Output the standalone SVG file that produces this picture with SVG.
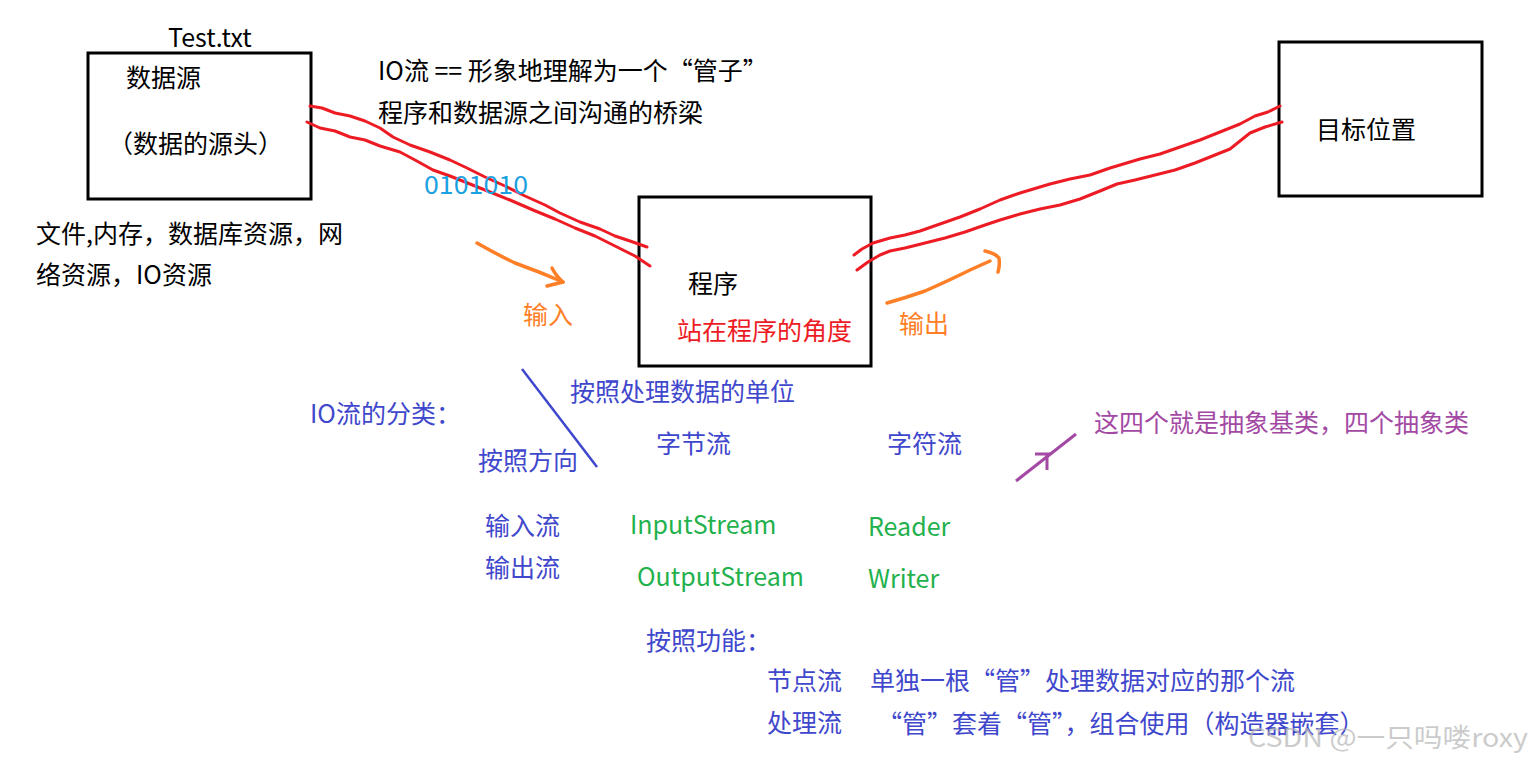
<svg xmlns="http://www.w3.org/2000/svg" width="1532" height="762" viewBox="0 0 1532 762">
<style>
text{font-family:"Microsoft YaHei","Noto Sans CJK SC","Noto Sans",sans-serif;font-size:25px}
.k{fill:#000}.b{fill:#3f48cc}.g{fill:#22b14c}.o{fill:#ff7f27}.r{fill:#ed1c24}.p{fill:#a349a4}.c{fill:#1ba1e2}
.box{fill:none;stroke:#000;stroke-width:3}
.red{fill:none;stroke:#ed1c24;stroke-width:3;stroke-linecap:round;stroke-linejoin:round}
.org{fill:none;stroke:#ff7f27;stroke-width:3.5;stroke-linecap:round;stroke-linejoin:round}
</style>
<rect width="1532" height="762" fill="#fff"/>
<g id="source">
<rect class="box" x="88" y="53" width="223" height="146"/>
<text class="k" x="168" y="47">Test.txt</text>
<text class="k" x="126" y="87">数据源</text>
<text class="k" x="108" y="153">（数据的源头）</text>
</g>
<text class="k" x="36" y="243">文件,内存，数据库资源，网</text>
<text class="k" x="36" y="284">络资源，IO资源</text>
<text class="k" x="378" y="80">IO流 == 形象地理解为一个“管子”</text>
<text class="k" x="378" y="122">程序和数据源之间沟通的桥梁</text>
<g id="program">
<rect class="box" x="639" y="197" width="232" height="169"/>
<text class="k" x="688" y="293">程序</text>
<text class="r" x="677" y="340">站在程序的角度</text>
</g>
<g id="target">
<rect class="box" x="1279" y="42" width="203" height="154"/>
<text class="k" x="1316" y="139">目标位置</text>
</g>
<g id="connectors">
<path class="red" d="M310 106 L322 108 L335 113 L350 116 L365 121 L380 128 L393 137 L410 145 L430 152 L450 160 L467 168 L485 177 L505 186 L525 196 L545 205 L560 213 L580 222 L600 229 L615 236 L630 241 L647 247"/>
<path class="red" d="M307 122 L320 128 L335 131 L350 137 L365 140 L380 146 L400 152 L415 160 L433 170 L450 176 L470 184 L490 192 L510 200 L533 210 L555 219 L575 228 L595 236 L615 246 L635 256 L650 266"/>
<path class="red" d="M854 255 L862 249 L873 243 L890 238 L905 235 L920 231 L940 224 L960 217 L980 209 L1000 200 L1020 193 L1050 184 L1070 179 L1090 175 L1110 168 L1140 159 L1160 154 L1180 147 L1200 140 L1220 132 L1240 124 L1255 116 L1268 112 L1280 106"/>
<path class="red" d="M857 270 L868 262 L880 255 L890 251 L905 248 L925 243 L945 238 L965 232 L985 225 L1000 220 L1020 214 L1040 209 L1060 205 L1080 199 L1100 191 L1117 184 L1135 180 L1155 175 L1175 170 L1195 163 L1210 157 L1230 149 L1250 133 L1265 127 L1282 122"/>
<path class="org" d="M477 243 Q500 256 515 263 Q540 272 563 282"/>
<path class="org" d="M552 268 Q556 276 563 282 L547 286"/>
<path class="org" d="M887 303 Q905 298 925 291 Q950 280 970 270 L990 261"/>
<path class="org" d="M985 251 Q995 253 999 258 Q1000 266 998 272"/>
<line x1="522" y1="369" x2="597" y2="467" stroke="#3f48cc" stroke-width="2.5"/>
<line x1="1016" y1="481" x2="1076" y2="434" stroke="#a349a4" stroke-width="3"/>
<path d="M1035 454 L1051 454 M1047 454 L1047 470" fill="none" stroke="#a349a4" stroke-width="3"/>
</g>
<text class="c" x="424" y="194" textLength="104" lengthAdjust="spacingAndGlyphs">0101010</text>
<text class="o" x="523" y="324">输入</text>
<text class="o" x="899" y="333">输出</text>
<text class="b" x="310" y="423">IO流的分类：</text>
<text class="b" x="570" y="401">按照处理数据的单位</text>
<text class="b" x="478" y="470">按照方向</text>
<text class="b" x="656" y="453">字节流</text>
<text class="b" x="887" y="453">字符流</text>
<text class="p" x="1094" y="432">这四个就是抽象基类，四个抽象类</text>
<text class="b" x="485" y="535">输入流</text>
<text class="b" x="485" y="577">输出流</text>
<text class="g" x="630" y="534">InputStream</text>
<text class="g" x="637" y="586">OutputStream</text>
<text class="g" x="868" y="536">Reader</text>
<text class="g" x="868" y="588">Writer</text>
<text class="b" x="646" y="650">按照功能：</text>
<text class="b" x="767" y="690">节点流</text>
<text class="b" x="870" y="690">单独一根“管”处理数据对应的那个流</text>
<text class="b" x="767" y="732">处理流</text>
<text class="b" x="877" y="733">“管”套着“管”，组合使用（构造器嵌套）</text>
<text x="1248" y="747" fill="#b4b4b4" fill-opacity="0.7" style="font-size:26px" textLength="280" lengthAdjust="spacingAndGlyphs">CSDN @一只吗喽roxy</text>
</svg>
